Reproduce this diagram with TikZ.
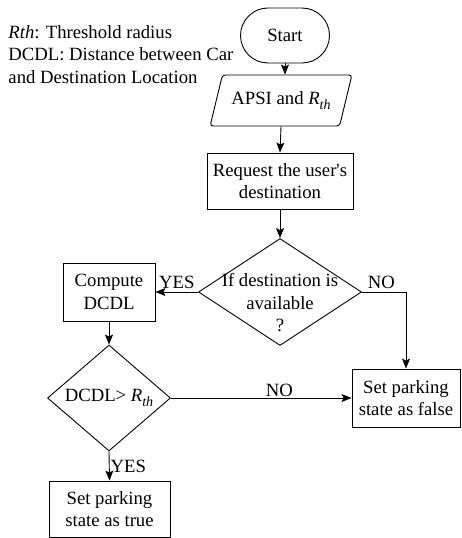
\documentclass[tikz,border=0pt]{standalone}
\usepackage{fontspec}
\setmainfont{Liberation Serif}
\usepackage{tikz}
\usetikzlibrary{positioning, arrows.meta, shapes.geometric, shapes.misc}

\newcommand{\Rth}{\textit{R}\raisebox{-5pt}{\fontsize{14}{14}\selectfont\textit{th}}}

\begin{document}
\begin{tikzpicture}[
            x=1pt, y=-1pt,
            font=\fontsize{18.7}{22.5}\selectfont,
            line width=0.9pt,
            >={Stealth[length=10pt, width=8pt, inset=2pt]},
            terminal/.style={draw, rounded rectangle, minimum width=89pt, minimum height=55pt, inner sep=0pt},
            inputbox/.style={draw, trapezium, trapezium left angle=60, trapezium right angle=120, trapezium stretches=true, minimum width=142pt, minimum height=51pt, inner sep=0pt, rounded corners=3pt},
            process/.style={draw, rectangle, align=center, inner sep=0pt},
            decision/.style={draw, diamond, inner sep=0pt},
            flow/.style={->}
        ]

        \useasboundingbox (0,0) rectangle (461,538);

        % ======================================
        % Legend
        % ======================================
        \node[anchor=north west, align=left, inner sep=0pt] (legend) at (8, 25)
        {\textit{Rth}: Threshold radius\\DCDL: Distance between Car\\and Destination Location};

        % ======================================
        % Main column
        % ======================================
        \node[terminal] (start) at (285, 35.5) {Start};
        \node[inputbox] (input) at (281, 100.5) {APSI and \Rth};
        \node[process, minimum width=146pt, minimum height=56pt] (request) at (280, 181)
        {Request the user\textquotesingle s\\destination};
        \node[decision, minimum width=163pt, minimum height=107pt,
              label={[align=center, yshift=-11pt]center:If destination is\\available\\?}] (avail) at (280, 292) {};

        % ======================================
        % Left branch
        % ======================================
        \node[process, minimum width=92pt, minimum height=58pt] (compute) at (109, 292) {Compute\\DCDL};
        \node[decision, minimum width=123pt, minimum height=102pt] (check) at (109, 398) {DCDL> \Rth};
        \node[process, minimum width=121pt, minimum height=56pt] (ptrue) at (109.5, 509) {Set parking\\state as true};

        % ======================================
        % Right branch
        % ======================================
        \node[process, minimum width=108pt, minimum height=58pt] (pfalse) at (406, 398) {Set parking\\state as false};

        % ======================================
        % Connections
        % ======================================
        \draw[flow] (start.south) -- (start.south |- input.north);
        \draw[flow] (input.south) -- (request.north);
        \draw[flow] (request) -- (avail);
        \draw[flow] (avail.west) -- (compute.east) node[midway, above] {YES};
        \draw[flow] (avail.east) -| (pfalse.north) node[pos=0.22, above] {NO};
        \draw[flow] (compute) -- (check);
        \draw[flow] (check.east) -- (pfalse.west) node[pos=0.6, above, inner sep=1pt] {NO};
        \draw[flow] (check.south) -- (ptrue.north) node[midway, right, inner sep=1pt] {YES};

    \end{tikzpicture}
\end{document}
